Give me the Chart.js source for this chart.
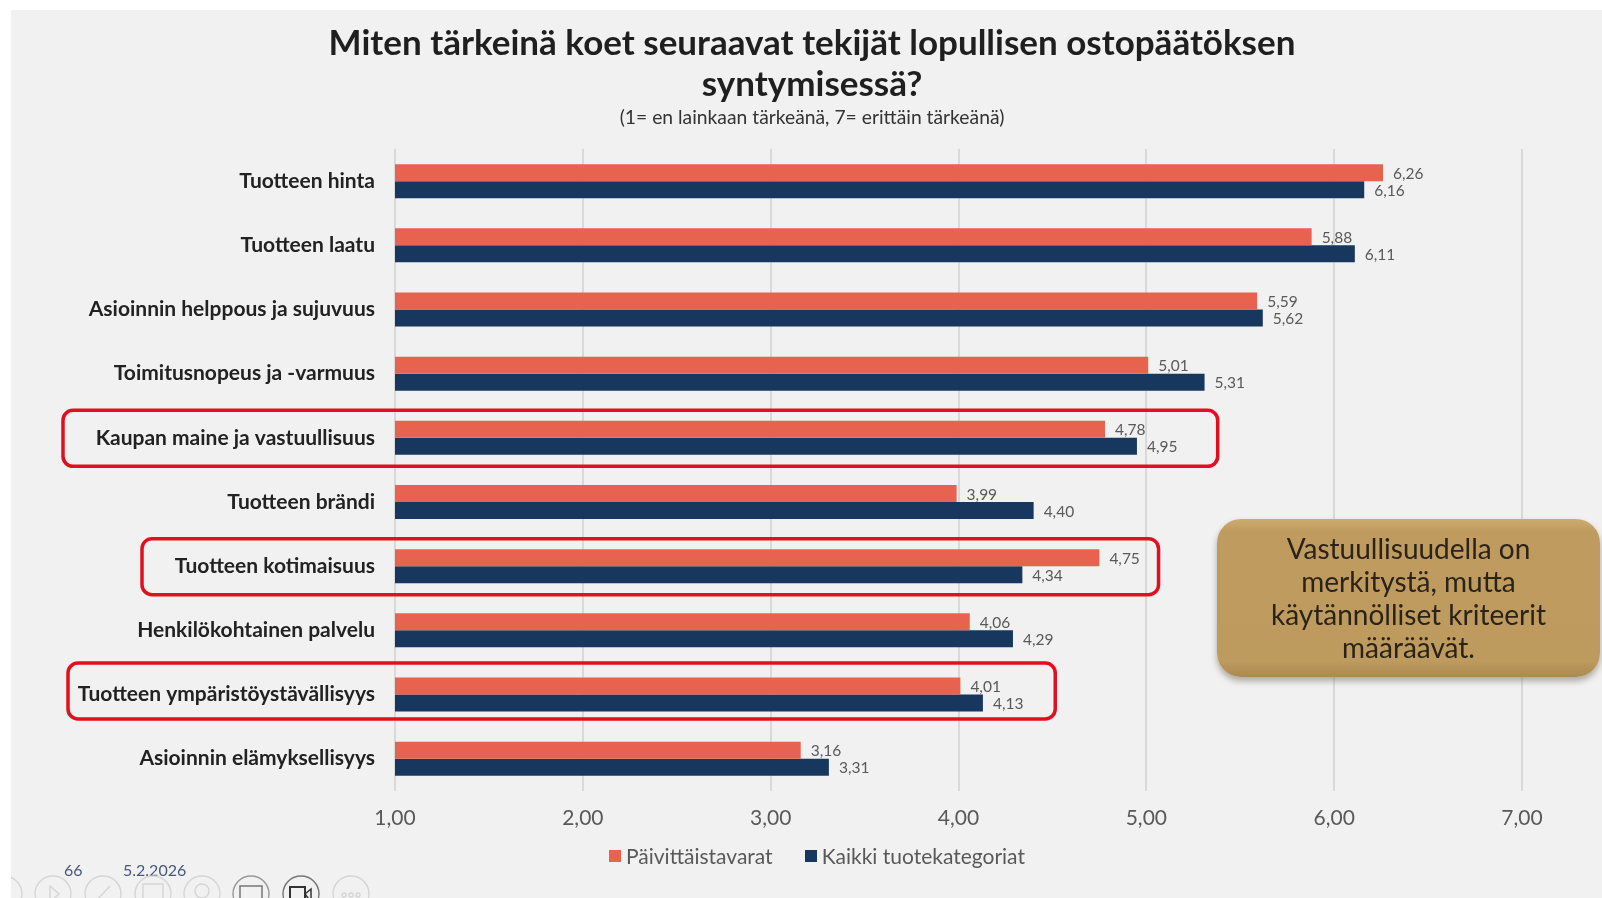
<!DOCTYPE html>
<html lang="fi">
<head>
<meta charset="utf-8">
<title>Ostopäätöksen tekijät</title>
<script src="https://cdn.jsdelivr.net/npm/chart.js@4"></script>
<style>
  html, body { margin: 0; width: 1602px; height: 898px; overflow: hidden; background: #fff; font-family: Lato, sans-serif; }
  #panel { position: absolute; left: 11px; top: 10px; width: 1602px; height: 888px; background: #f1f1f1; overflow: hidden; }
  #chart { position: absolute; left: 0; top: 0; }
  #legend { position: absolute; left: 598px; top: 833px; display: flex; gap: 32px; font-size: 21px; line-height: 25px; color: #595959; white-space: nowrap; }
  #legend span { display: flex; align-items: center; gap: 5px; }
  #legend i { display: block; width: 12px; height: 12px; }
  #callout {
    position: absolute; left: 1206px; top: 509px; width: 383px; height: 158px;
    box-sizing: border-box; padding-top: 13px; border-radius: 24px;
    background: linear-gradient(#cdab6e 0, #bf9b5f 8%, #bd9a5d 90%, #ab8a52 100%);
    box-shadow: 0 4px 6px rgba(90, 80, 60, .45);
    color: #2b2218; font-size: 28px; line-height: 33px; text-align: center;
  }
  .foot { position: absolute; font-size: 16px; color: #47587a; }
  #toolbar { position: absolute; left: -11px; top: 864px; }
</style>
</head>
<body>
<div id="panel">
  <canvas id="chart" width="1602" height="888"></canvas>
  <div id="legend"></div>
  <div id="callout">Vastuullisuudella on<br>merkitystä, mutta<br>käytännölliset kriteerit<br>määräävät.</div>
  <div class="foot" style="left:53px; top:850px">66</div>
  <div class="foot" style="left:112px; top:850px">5.2.2026</div>
  <svg id="toolbar" width="380" height="30" fill="none" stroke="#d6d6d6" stroke-width="1.5">
    <circle cx="4" cy="20" r="18"/>
    <circle cx="53" cy="20" r="18"/><path d="M50 12 l9 8 -9 8z"/>
    <circle cx="103" cy="20" r="18"/><path d="M95 28 l15 -16"/>
    <circle cx="153" cy="20" r="18"/><rect x="143" y="10" width="20" height="18"/>
    <circle cx="202" cy="20" r="18"/><circle cx="202" cy="17" r="7"/>
    <circle cx="251" cy="20" r="18" stroke="#9a9a9a"/><rect x="240" y="12" width="22" height="14" stroke="#777"/>
    <circle cx="301" cy="20" r="18" stroke="#777"/><rect x="290" y="13" width="15" height="15" stroke="#333" stroke-width="2"/><path d="M305 20 l6 -5 v13z" stroke="#333"/>
    <circle cx="351" cy="20" r="18"/><circle cx="344" cy="21" r="2"/><circle cx="351" cy="21" r="2"/><circle cx="358" cy="21" r="2"/>
  </svg>
</div>
<script>
"use strict";

const categories = [
  "Tuotteen hinta",
  "Tuotteen laatu",
  "Asioinnin helppous ja sujuvuus",
  "Toimitusnopeus ja -varmuus",
  "Kaupan maine ja vastuullisuus",
  "Tuotteen brändi",
  "Tuotteen kotimaisuus",
  "Henkilökohtainen palvelu",
  "Tuotteen ympäristöystävällisyys",
  "Asioinnin elämyksellisyys"
];
const dailyGoods = [6.26, 5.88, 5.59, 5.01, 4.78, 3.99, 4.75, 4.06, 4.01, 3.16];
const allCategories = [6.16, 6.11, 5.62, 5.31, 4.95, 4.40, 4.34, 4.29, 4.13, 3.31];
const titleLines = ["Miten tärkeinä koet seuraavat tekijät lopullisen ostopäätöksen", "syntymisessä?"];
const subtitleText = "(1= en lainkaan tärkeänä, 7= erittäin tärkeänä)";

// highlighted rows: category name, left edge in px, right end on the value axis, nudge in px
const highlightRows = ["Kaupan maine ja vastuullisuus", "Tuotteen kotimaisuus", "Tuotteen ympäristöystävällisyys"];
const highlightLeft = [52, 131, 57];
const highlightEnd = [5.38, 5.065, 4.515];
const highlightNudge = [0.5, 0.5, -3.5];

const formatValue = (v) => v.toFixed(2).replace(".", ",");

const valueLabels = {
  id: "valueLabels",
  afterDatasetsDraw(chart) {
    const { ctx } = chart;
    ctx.save();
    ctx.font = "15.5px Lato";
    ctx.fillStyle = "#595959";
    ctx.textAlign = "left";
    ctx.textBaseline = "middle";
    chart.data.datasets.forEach((ds, i) => {
      chart.getDatasetMeta(i).data.forEach((bar, j) => {
        ctx.fillText(formatValue(ds.data[j]), bar.x + 10, bar.y + 1);
      });
    });
    ctx.restore();
  }
};

const rowHighlights = {
  id: "rowHighlights",
  afterDatasetsDraw(chart) {
    const { ctx, scales } = chart;
    ctx.save();
    ctx.strokeStyle = "#e2101f";
    ctx.lineWidth = 3.5;
    highlightRows.forEach((name, i) => {
      const mid = scales.y.getPixelForValue(categories.indexOf(name)) + highlightNudge[i];
      const right = scales.x.getPixelForValue(highlightEnd[i]);
      ctx.beginPath();
      ctx.roundRect(highlightLeft[i], mid - 28, right - highlightLeft[i], 56, 10);
      ctx.stroke();
    });
    ctx.restore();
  }
};

const chart = new Chart(document.getElementById("chart"), {
  type: "bar",
  data: {
    labels: categories,
    datasets: [
      { label: "Päivittäistavarat", data: dailyGoods, backgroundColor: "#e8634f" },
      { label: "Kaikki tuotekategoriat", data: allCategories, backgroundColor: "#17375e" }
    ]
  },
  options: {
    indexAxis: "y",
    responsive: false,
    animation: false,
    categoryPercentage: 0.53,
    barPercentage: 1,
    layout: { padding: { top: 13, right: 0, bottom: 52, left: 0 } },
    plugins: {
      title: {
        display: true,
        text: titleLines,
        color: "#1f1f1f",
        font: { family: "Lato", size: 35, weight: "bold", lineHeight: 1.17 },
        padding: { top: 0, bottom: 1 }
      },
      subtitle: {
        display: true,
        text: subtitleText,
        color: "#333333",
        font: { family: "Lato", size: 19.3 },
        padding: { top: 0, bottom: 20 }
      },
      legend: { display: false },
      tooltip: { enabled: false }
    },
    scales: {
      x: {
        min: 1,
        max: 7,
        ticks: {
          stepSize: 1,
          color: "#595959",
          font: { family: "Lato", size: 21 },
          padding: 15,
          callback: (v) => formatValue(v)
        },
        grid: { color: "#d9d9d9", lineWidth: 2, drawTicks: false },
        border: { display: false }
      },
      y: {
        afterFit(scale) { scale.width = 384; },
        ticks: {
          color: "#222222",
          font: { family: "Lato", size: 21, weight: "bold" },
          padding: 12,
          autoSkip: false
        },
        grid: { display: false },
        border: { display: false }
      },
      // empty axis that keeps the right margin inside the title's box
      rightGutter: {
        axis: "y",
        position: "right",
        afterFit(scale) { scale.width = 91; },
        ticks: { display: false },
        grid: { display: false },
        border: { display: false }
      }
    }
  },
  plugins: [valueLabels, rowHighlights]
});

chart.data.datasets.forEach((ds) => {
  const item = document.createElement("span");
  const swatch = document.createElement("i");
  swatch.style.background = ds.backgroundColor;
  item.append(swatch, ds.label);
  document.getElementById("legend").append(item);
});
</script>
</body>
</html>
